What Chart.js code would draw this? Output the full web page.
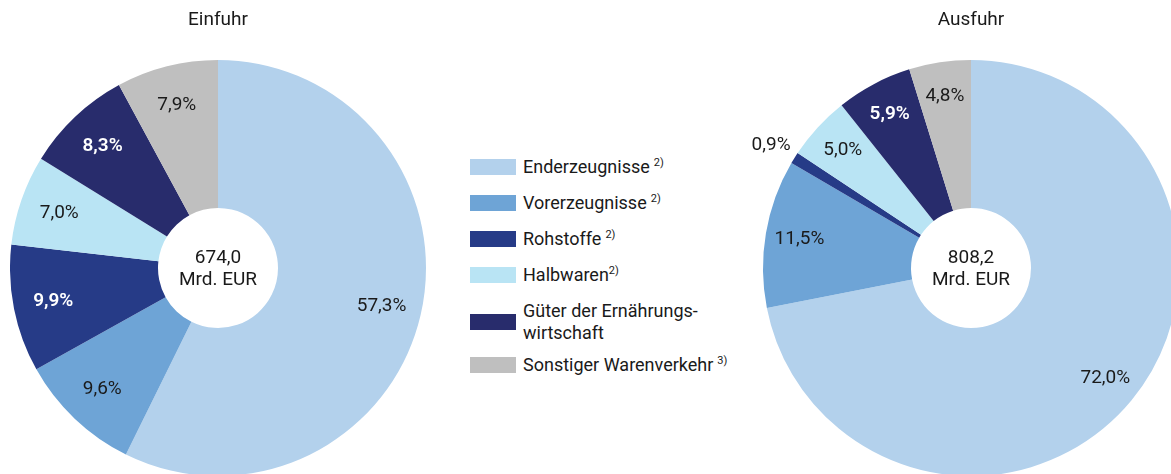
<!DOCTYPE html>
<html lang="de">
<head>
<meta charset="utf-8">
<title>Einfuhr und Ausfuhr nach Warengruppen</title>
<script src="https://cdn.jsdelivr.net/npm/chart.js@4.4.1/dist/chart.umd.min.js"></script>
<style>
  html, body { margin: 0; padding: 0; background: #fff; }
  body { width: 1171px; height: 474px; overflow: hidden; position: relative; font-family: Roboto, "Noto Sans", sans-serif; color: #1a1a1a; }
  canvas { position: absolute; top: 0; }
  #chartImport { left: 10px; }
  #chartExport { left: 733px; }
  #legend { position: absolute; left: 470px; top: 156px; margin: 0; padding: 0; list-style: none; font-size: 18px; }
  #legend li { position: relative; padding-left: 53px; line-height: 22px; height: 22px; margin-bottom: 14px; white-space: nowrap; }
  #legend li.two { height: 44px; margin-bottom: 10px; }
  #legend li .swatch { position: absolute; left: 0; top: 50%; width: 46px; height: 16px; margin-top: -8px; }
  #legend sup { font-size: 11px; line-height: 0; vertical-align: 0; position: relative; top: -7px; margin-left: 4px; }
  #legend sup.tight { margin-left: 0; }
</style>
</head>
<body>
<canvas id="chartImport" width="416" height="476"></canvas>
<ul id="legend"></ul>
<canvas id="chartExport" width="446" height="476"></canvas>
<script>
// Warengruppen (legend order = slice order, clockwise from 12 o'clock)
const categories = ['Enderzeugnisse', 'Vorerzeugnisse', 'Rohstoffe', 'Halbwaren', 'Güter der Ernährungs-\nwirtschaft', 'Sonstiger Warenverkehr'];
const footnotes = ['2)', '2)', '2)', '2)', '', '3)'];
const colors = ['#b3d1ec', '#6ea4d6', '#263b87', '#b9e4f4', '#282c6c', '#bfbfbf'];

// Anteile in Prozent
const importShares = [57.3, 9.6, 9.9, 7.0, 8.3, 7.9];
const exportShares = [72.0, 11.5, 0.9, 5.0, 5.9, 4.8];

// Gesamtwerte in Mrd. EUR
const importTotal = '674,0';
const exportTotal = '808,2';

const FONT = 'Roboto, "Noto Sans", sans-serif';
const darkSlices = [2, 4];

const fmt = v => v.toFixed(1).replace('.', ',') + '%';

// Draws the percentage of each slice plus the total in the hole
const sliceLabels = {
  id: 'sliceLabels',
  afterDatasetsDraw(chart, args, opts) {
    const ctx = chart.ctx;
    const meta = chart.getDatasetMeta(0);
    const data = chart.data.datasets[0].data;
    ctx.save();
    ctx.textAlign = 'center';
    ctx.textBaseline = 'middle';
    meta.data.forEach((arc, i) => {
      const p = arc.getProps(['x', 'y', 'startAngle', 'endAngle', 'outerRadius'], true);
      const mid = (p.startAngle + p.endAngle) / 2;
      const outside = data[i] < 2;
      const r = outside ? p.outerRadius + 24 : opts.radius;
      const dx = outside ? -3 : 0;
      const x = p.x + Math.cos(mid) * r + dx;
      const y = p.y + Math.sin(mid) * r;
      const white = !outside && darkSlices.includes(i);
      ctx.fillStyle = white ? '#ffffff' : '#1a1a1a';
      ctx.font = (white ? '600 ' : '400 ') + '19px ' + FONT;
      ctx.fillText(fmt(data[i]), x, y);
    });
    const c = meta.data[0];
    ctx.fillStyle = '#1a1a1a';
    ctx.font = '400 19px ' + FONT;
    ctx.fillText(opts.total, c.x, c.y - 10);
    ctx.fillText('Mrd. EUR', c.x, c.y + 12);
    ctx.restore();
  }
};

function makeChart(id, title, shares, total, labelRadius, padLeft) {
  return new Chart(document.getElementById(id), {
    type: 'doughnut',
    data: {
      labels: categories,
      datasets: [{
        data: shares,
        backgroundColor: colors,
        borderWidth: 0,
        hoverOffset: 0
      }]
    },
    options: {
      responsive: false,
      animation: false,
      cutout: 60,
      layout: { padding: { left: padLeft, right: 0, top: 0, bottom: 0 } },
      events: [],
      plugins: {
        legend: { display: false },
        tooltip: { enabled: false },
        title: {
          display: true,
          text: title,
          color: '#1a1a1a',
          font: { family: FONT, size: 19, weight: '400', lineHeight: 1.2 },
          padding: { top: 9, bottom: 28.2 }
        },
        sliceLabels: { total: total, radius: labelRadius }
      }
    },
    plugins: [sliceLabels]
  });
}

makeChart('chartImport', 'Einfuhr', importShares, importTotal, 168, 0);
makeChart('chartExport', 'Ausfuhr', exportShares, exportTotal, 174, 30);

// Legend between the two rings
const legend = document.getElementById('legend');
categories.forEach((name, i) => {
  const li = document.createElement('li');
  const sw = document.createElement('span');
  sw.className = 'swatch';
  sw.style.background = colors[i];
  li.appendChild(sw);
  const lines = name.split('\n');
  if (lines.length > 1) li.className = 'two';
  lines.forEach((line, k) => {
    if (k > 0) li.appendChild(document.createElement('br'));
    li.appendChild(document.createTextNode(line));
  });
  if (footnotes[i]) {
    const sup = document.createElement('sup');
    sup.textContent = footnotes[i];
    if (name === 'Halbwaren') sup.className = 'tight';
    li.appendChild(sup);
  }
  legend.appendChild(li);
});
</script>
</body>
</html>
